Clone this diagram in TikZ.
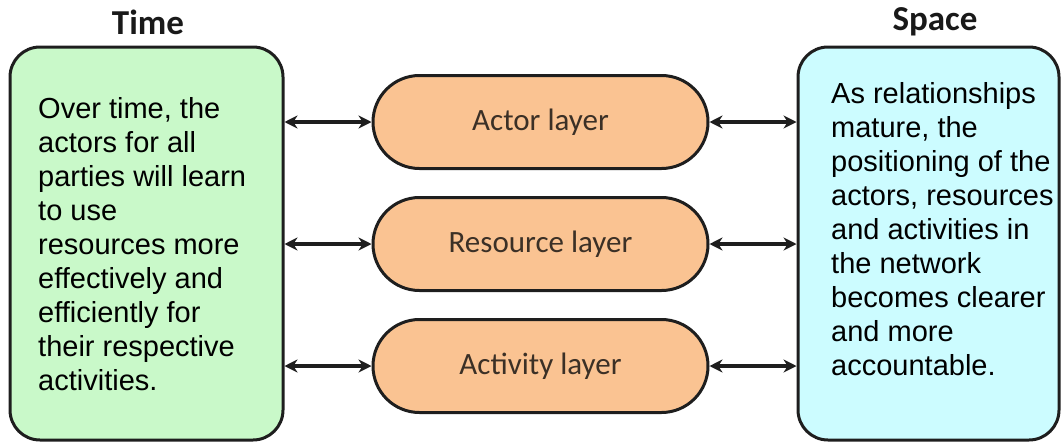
\documentclass[tikz,border=0pt]{standalone}
\usepackage{fontspec}
\setmainfont{Liberation Sans}
\newfontfamily\labelfont{Carlito}
\usetikzlibrary{arrows.meta,shapes.misc}
\definecolor{timefill}{HTML}{C9F9C9}
\definecolor{spacefill}{HTML}{CCFCFF}
\definecolor{layerfill}{HTML}{FAC392}
\definecolor{edgecol}{HTML}{1E1E1E}
\definecolor{layertext}{HTML}{3B3026}

\begin{document}
\begin{tikzpicture}[x=1pt,y=-1pt,
  panel/.style={draw=edgecol, line width=3pt, rounded corners=30pt,
    inner sep=0pt, minimum height=393pt},
  layer/.style={rounded rectangle, draw=edgecol, line width=3pt,
    fill=layerfill, minimum width=335pt, minimum height=93pt, inner sep=0pt,
    text=layertext, font=\labelfont\fontsize{31}{36}\selectfont},
  heading/.style={font=\labelfont\bfseries\fontsize{35}{40}\selectfont,
    text=black!90, inner sep=0pt},
  body/.style={align=left, anchor=north west, inner sep=0pt,
    font=\fontsize{29}{34}\selectfont},
  twoway/.style={line width=3.6pt, draw=edgecol,
    {Stealth[length=13pt,width=13pt]}-{Stealth[length=13pt,width=13pt]}}]

\useasboundingbox (0,0) rectangle (1062,442);

% side panels
\node[panel, fill=timefill, minimum width=273pt] (timebox) at (146.5,243.5) {};
\node[panel, fill=spacefill, minimum width=261pt] (spacebox) at (928.5,243.5) {};

% headings
\node[heading] (timehead) at (148,22) {Time};
\node[heading] (spacehead) at (935,22) {Space};

% panel texts
\node[body] (timetext) at (38,97) {Over time, the\\actors for all\\parties will learn\\to use\\resources more\\effectively and\\efficiently for\\their respective\\activities.};
\node[body] (spacetext) at (831,82) {As relationships\\mature, the\\positioning of the\\actors, resources\\and activities in\\the network\\becomes clearer\\and more\\accountable.};

% layers
\node[layer] (actor) at (540.5,122) {Actor layer};
\node[layer] (resource) at (540.5,244) {Resource layer};
\node[layer] (activity) at (540.5,366) {Activity layer};

% connectors
\foreach \n in {actor,resource,activity}{
  \draw[twoway] (timebox.east |- \n.west) -- (\n.west);
  \draw[twoway] (\n.east) -- (spacebox.west |- \n.east);
}
\end{tikzpicture}
\end{document}
